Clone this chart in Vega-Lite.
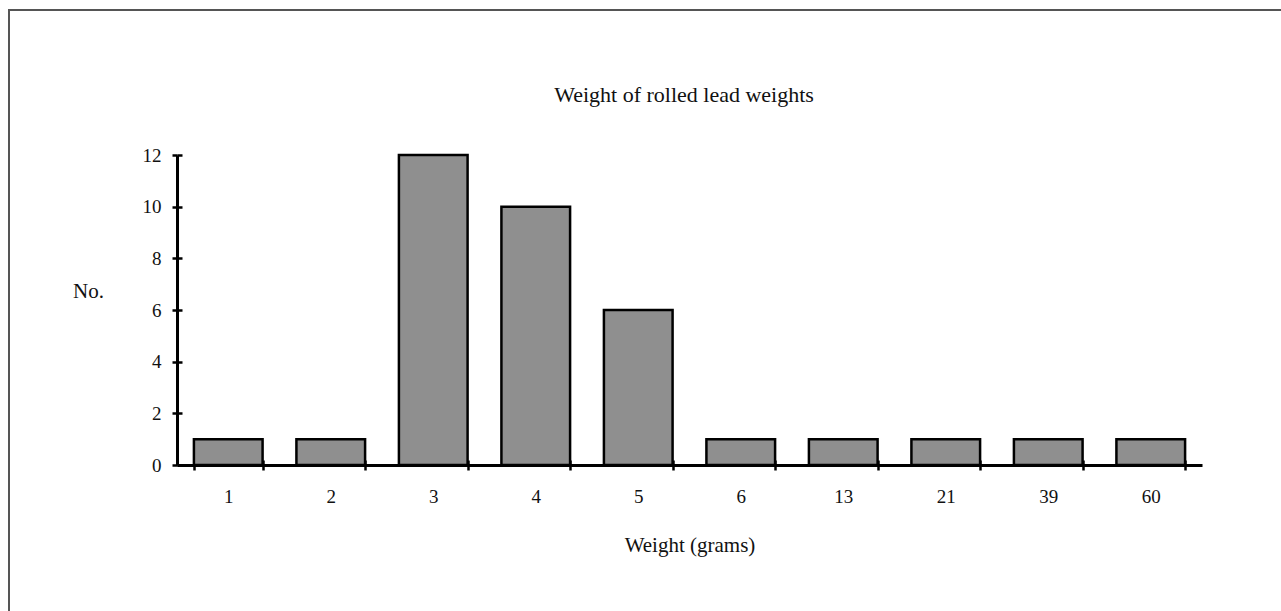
{
  "$schema": "https://vega.github.io/schema/vega-lite/v6.json",
  "autosize": {"type": "none"},
  "padding": {"left": 9, "top": 10, "right": -10, "bottom": -10},
  "width": 1282,
  "height": 611,
  "background": "white",
  "config": {
    "view": {"stroke": "#555555", "strokeWidth": 2},
    "font": "Liberation Serif"
  },
  "title": {
    "text": "Weight of rolled lead weights",
    "font": "Liberation Serif",
    "fontSize": 22,
    "fontWeight": "normal",
    "color": "#111111",
    "anchor": "middle",
    "dx": 34,
    "offset": -114,
    "baseline": "alphabetic"
  },
  "data": {
    "values": [
      {"weight": 1, "count": 1},
      {"weight": 2, "count": 1},
      {"weight": 3, "count": 12},
      {"weight": 4, "count": 10},
      {"weight": 5, "count": 6},
      {"weight": 6, "count": 1},
      {"weight": 13, "count": 1},
      {"weight": 21, "count": 1},
      {"weight": 39, "count": 1},
      {"weight": 60, "count": 1}
    ]
  },
  "layer": [
    {
      "mark": {"type": "bar", "fill": "#8f8f8f", "stroke": "#000000", "strokeWidth": 2.5},
      "encoding": {
        "x": {
          "field": "weight",
          "type": "ordinal",
          "scale": {"range": [168, 1193], "paddingInner": 0.33, "paddingOuter": 0.165},
          "axis": {
            "orient": "bottom",
            "offset": -156,
            "title": "Weight (grams)",
            "titleFont": "Liberation Serif",
            "titleFontSize": 21,
            "titleFontWeight": "normal",
            "titleColor": "#111111",
            "titleBaseline": "alphabetic",
            "titleY": 86,
            "labelAngle": 0,
            "labelFont": "Liberation Serif",
            "labelFontSize": 19,
            "labelColor": "#111111",
            "labelBaseline": "alphabetic",
            "labelPadding": 32,
            "tickBand": "extent",
            "tickSize": 5,
            "tickWidth": 2.5,
            "tickColor": "#000000",
            "domainColor": "#000000",
            "domainWidth": 3,
            "grid": false
          }
        },
        "y": {
          "field": "count",
          "type": "quantitative",
          "scale": {"domain": [0, 12], "range": [455, 145], "nice": false},
          "axis": {
            "orient": "left",
            "offset": -168,
            "values": [0, 2, 4, 6, 8, 10, 12],
            "title": "No.",
            "titleAngle": 0,
            "titleFont": "Liberation Serif",
            "titleFontSize": 21,
            "titleFontWeight": "normal",
            "titleColor": "#111111",
            "titleAlign": "center",
            "titleBaseline": "alphabetic",
            "titleX": -89,
            "titleY": 287,
            "labelFont": "Liberation Serif",
            "labelFontSize": 19,
            "labelColor": "#111111",
            "labelPadding": 11,
            "tickSize": 5,
            "tickWidth": 2.5,
            "tickColor": "#000000",
            "domainColor": "#000000",
            "domainWidth": 3,
            "grid": false
          }
        }
      }
    },
    {
      "mark": {"type": "bar", "opacity": 0},
      "encoding": {
        "x": {
          "field": "weight",
          "type": "ordinal",
          "scale": {"range": [168, 1193], "paddingInner": 0.33, "paddingOuter": 0.165},
          "axis": {
            "orient": "top",
            "offset": -455,
            "title": null,
            "labels": false,
            "domain": false,
            "grid": false,
            "tickBand": "extent",
            "tickSize": 5,
            "tickWidth": 2.5,
            "tickColor": "#000000"
          }
        },
        "y": {
          "field": "count",
          "type": "quantitative",
          "scale": {"domain": [0, 12], "range": [455, 145], "nice": false},
          "axis": {
            "orient": "right",
            "offset": -1114,
            "values": [0, 2, 4, 6, 8, 10, 12],
            "title": null,
            "labels": false,
            "domain": false,
            "grid": false,
            "tickSize": 5,
            "tickWidth": 2.5,
            "tickColor": "#000000"
          }
        }
      }
    }
  ],
  "resolve": {"axis": {"x": "independent", "y": "independent"}}
}
